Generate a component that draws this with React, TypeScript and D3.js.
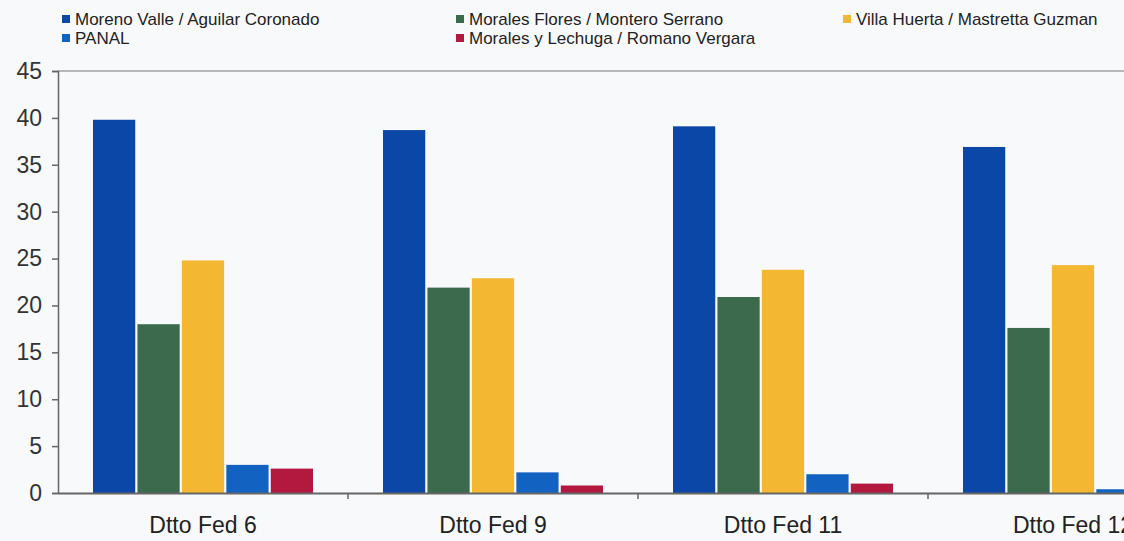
import React, { useEffect, useRef } from 'react';
import * as d3 from 'd3';

const categories = ['Dtto Fed 6', 'Dtto Fed 9', 'Dtto Fed 11', 'Dtto Fed 12'];
const seriesNames = [
  'Moreno Valle / Aguilar Coronado',
  'Morales Flores / Montero Serrano',
  'Villa Huerta / Mastretta Guzman',
  'PANAL',
  'Morales y Lechuga / Romano Vergara',
];
const seriesColors = ['#0a47a6', '#3b6a4c', '#f4b731', '#1262c2', '#b3183f'];
const morenoValle = [39.8, 38.7, 39.1, 36.9];
const moralesFlores = [18.0, 21.9, 20.9, 17.6];
const villaHuerta = [24.8, 22.9, 23.8, 24.3];
const panal = [3.0, 2.2, 2.0, 0.4];
const moralesLechuga = [2.6, 0.8, 1.0, 0.3];
const yTicks = [0, 5, 10, 15, 20, 25, 30, 35, 40, 45];

const App: React.FC = () => {
  const svgRef = useRef<SVGSVGElement>(null);

  useEffect(() => {
    if (!svgRef.current) return;
    const width = 1124;
    const height = 541;
    const svg = d3.select(svgRef.current);
    svg.selectAll('*').remove();
    svg.attr('width', width).attr('height', height);

    svg.append('rect').attr('width', width).attr('height', height).attr('fill', '#f8f9fb');

    const left = 58;
    const bandW = 290;
    const x = d3.scaleBand<string>()
      .domain(categories)
      .range([left, left + bandW * categories.length])
      .paddingInner(0)
      .paddingOuter(0);
    const y = d3.scaleLinear().domain([0, 45]).range([493, 71]);

    const series = [morenoValle, moralesFlores, villaHuerta, panal, moralesLechuga];
    const inner = d3.scaleBand<number>()
      .domain(d3.range(series.length))
      .range([35, bandW - 35])
      .paddingInner(0.05);

    const font = 'Arial, "Liberation Sans", sans-serif';

    // top border
    svg.append('line')
      .attr('x1', left).attr('x2', width).attr('y1', y(45)).attr('y2', y(45))
      .attr('stroke', '#777').attr('stroke-width', 1.2);

    // bars
    series.forEach((vals, si) => {
      svg.append('g')
        .selectAll('rect')
        .data(vals)
        .join('rect')
        .attr('x', (_, i) => (x(categories[i]) as number) + (inner(si) as number))
        .attr('width', inner.bandwidth())
        .attr('y', (d) => y(d))
        .attr('height', (d) => y(0) - y(d))
        .attr('fill', seriesColors[si]);
    });

    // y axis
    const yAxis = svg.append('g')
      .attr('transform', `translate(${left},0)`)
      .call(d3.axisLeft(y).tickValues(yTicks).tickSize(6).tickPadding(10));
    yAxis.select('.domain').attr('stroke', '#666').attr('stroke-width', 1.5);
    yAxis.selectAll('.tick line').attr('stroke', '#666').attr('stroke-width', 1.5);
    yAxis.selectAll('.tick text')
      .attr('fill', '#333')
      .style('font-size', '23px')
      .style('font-family', font);

    // x axis
    const xAxis = svg.append('g')
      .attr('transform', `translate(0,${y(0)})`)
      .call(d3.axisBottom(x).tickSize(0).tickPadding(24));
    xAxis.select('.domain').attr('stroke', '#666').attr('stroke-width', 1.8);
    xAxis.selectAll('.tick text')
      .attr('fill', '#222')
      .style('font-size', '23px')
      .style('font-family', font);
    xAxis.selectAll('.sep')
      .data(categories.slice(1))
      .join('line')
      .attr('class', 'sep')
      .attr('x1', (d) => x(d) as number)
      .attr('x2', (d) => x(d) as number)
      .attr('y1', 0)
      .attr('y2', 6)
      .attr('stroke', '#666')
      .attr('stroke-width', 1.5);

    // legend
    const legendPos = [
      [62, 25], [456, 25], [843, 25], [62, 44], [456, 44],
    ];
    const legend = svg.append('g');
    seriesNames.forEach((name, i) => {
      const [lx, ly] = legendPos[i];
      legend.append('rect')
        .attr('x', lx).attr('y', ly - 10).attr('width', 8).attr('height', 8)
        .attr('fill', seriesColors[i]);
      legend.append('text')
        .attr('x', lx + 13).attr('y', ly)
        .attr('fill', '#222')
        .style('font-size', '17px')
        .style('font-family', font)
        .text(name);
    });
  }, []);

  return (
    <div style={{ position: 'fixed', left: 0, top: 0, width: 1124, height: 541, overflow: 'hidden' }}>
      <svg ref={svgRef} style={{ display: 'block' }}></svg>
    </div>
  );
};

export default App;
